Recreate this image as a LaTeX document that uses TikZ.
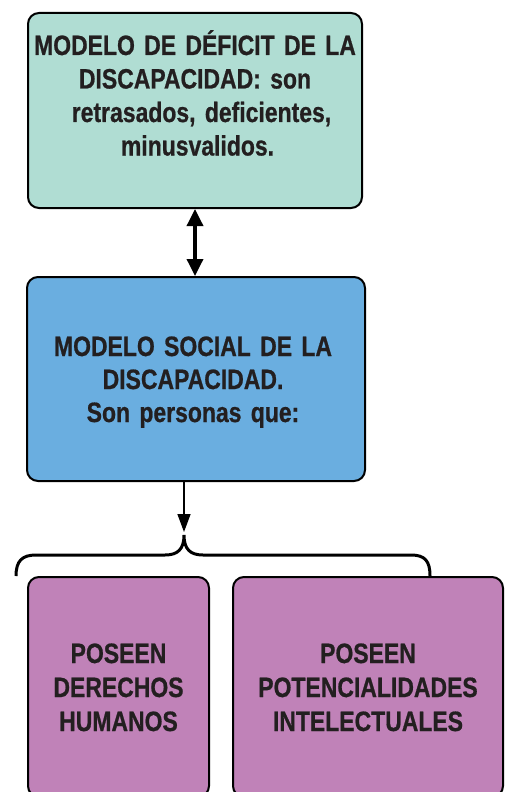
\documentclass[tikz,border=0pt]{standalone}
\usepackage{fontspec}
\newfontfamily\dfont{Liberation Sans}[FakeStretch=0.82, UprightFont=* Bold, UprightFeatures={FakeBold=0.7}]
\usetikzlibrary{arrows.meta}
\definecolor{tealbox}{HTML}{B0DDD3}
\definecolor{bluebox}{HTML}{6AAEE0}
\definecolor{purplebox}{HTML}{C082B8}
\definecolor{ink}{HTML}{231F20}
\newcommand{\dtext}[1]{\fontsize{28}{#1}\dfont\fontdimen2\font=4.6pt\relax}
\begin{document}
\begin{tikzpicture}[x=1pt,y=-1pt,
  box/.style={draw=black, line width=2pt, rounded corners=11pt, inner sep=0pt},
  txt/.style={text=ink, font=\dtext{34}, align=center, inner sep=0pt},
  brace/.style={draw=black, line width=3pt},
  dbl/.style={line width=3.5pt, {Triangle[width=16pt,length=17pt]}-{Triangle[width=16pt,length=17pt]}},
  down/.style={line width=1.5pt, -{Triangle[width=13pt,length=18pt]}}]
\useasboundingbox (0,0) rectangle (504,792);
\clip (0,0) rectangle (504,792);
% boxes
\node[box, fill=tealbox, minimum width=334pt, minimum height=195pt] (deficit) at (195,110.5) {};
\node[box, fill=bluebox, minimum width=338pt, minimum height=204pt] (social) at (196,379) {};
\node[box, fill=purplebox, minimum width=181pt, minimum height=220pt] (derechos) at (118.5,687) {};
\node[box, fill=purplebox, minimum width=270pt, minimum height=220pt] (potencial) at (368,687) {};
% texts
\node[txt, text width=330pt, anchor=base, font=\dtext{33.5}] (deficittext) at (195,55)
  {MODELO DE DÉFICIT DE LA\\DISCAPACIDAD: son\\\hspace*{13pt}retrasados, deficientes,\\\hspace*{5pt}minusvalidos.};
\node[txt, text width=330pt, anchor=base, font=\dtext{33}] (socialtext) at (193,356)
  {MODELO SOCIAL DE LA\\DISCAPACIDAD.\\Son personas que:};
\node[txt, text width=178pt, anchor=base] (derechostext) at (118.5,663)
  {POSEEN\\DERECHOS\\HUMANOS};
\node[txt, text width=266pt, anchor=base] (potencialtext) at (368,663)
  {POSEEN\\POTENCIALIDADES\\INTELECTUALES};
% connectors
\draw[dbl] (deficit.south) -- (deficit.south |- social.north);
\coordinate (tip) at (184,535);
\draw[down, shorten >=3pt] (social.south -| tip) -- (tip);
\draw[brace] (16,576) .. controls (16,561) and (22,555) .. (36,555) -- (165,555)
  .. controls (178,555) and (184,549) .. (tip)
  .. controls (184,549) and (190,555) .. (203,555) -- (411,555)
  .. controls (425,555) and (430,561) .. (430,576);
\end{tikzpicture}
\end{document}
